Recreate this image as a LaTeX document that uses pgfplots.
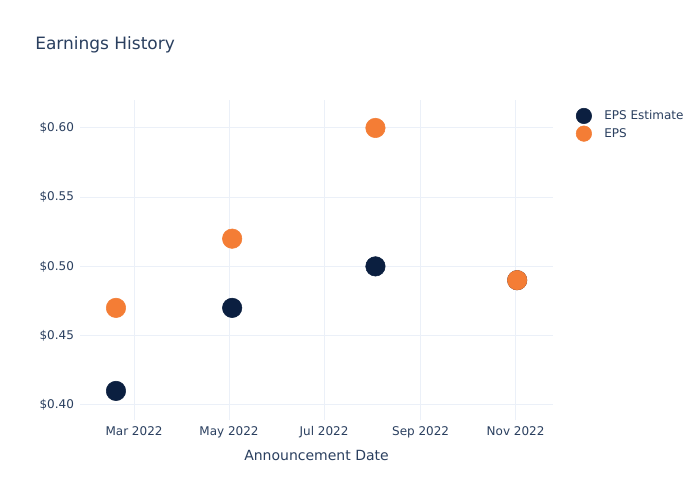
\documentclass[border=0pt]{standalone}
\usepackage{pgfplots}
\pgfplotsset{compat=1.18}
\usepackage{fontspec}
\setmainfont{DejaVu Sans}
\definecolor{txt}{HTML}{2A3F5F}
\definecolor{grd}{HTML}{EBF0F8}
\definecolor{navy}{HTML}{0B1F40}
\definecolor{orng}{HTML}{F47D35}
\begin{document}
\begin{tikzpicture}
\useasboundingbox (0pt,0pt) rectangle (525pt,375pt);
\fill[white] (0pt,0pt) rectangle (525pt,375pt);
\node[anchor=base west,text=txt,font=\fontsize{12.75pt}{14pt}\selectfont,inner sep=0] at (26.25pt,337.5pt) {Earnings History};
\begin{axis}[
  at={(60pt,60pt)}, anchor=south west,
  scale only axis, width=354.75pt, height=240pt,
  xmin=-34.7, xmax=269, ymin=0.389, ymax=0.6202,
  axis line style={draw=none},
  tick style={draw=none},
  grid=major, grid style={grd, line width=0.75pt},
  xtick={0,61,122,184,245},
  xticklabels={Mar 2022,May 2022,Jul 2022,Sep 2022,Nov 2022},
  ytick={0.40,0.45,0.50,0.55,0.60},
  yticklabels={\$0.40,\$0.45,\$0.50,\$0.55,\$0.60},
  ticklabel style={text=txt, font=\fontsize{9pt}{10pt}\selectfont},
  xticklabel style={yshift=-1pt, text height=7pt, text depth=2pt},
  yticklabel style={xshift=-1pt},
  xlabel={Announcement Date},
  xlabel style={text=txt, font=\fontsize{10.5pt}{12pt}\selectfont, yshift=-2pt},
  clip=false,
  legend style={at={(1.04,0.985)}, anchor=north west, draw=none, fill=none,
    font=\fontsize{9pt}{10pt}\selectfont, text=txt, row sep=1pt,
    legend cell align=left, nodes={inner xsep=5pt}},
  legend image code/.code={\draw[#1, mark size=5.8pt] plot coordinates {(0.25cm,0cm)};
    \path[draw=none,fill=none] (0.25cm,0cm) rectangle (0.25cm+10.3pt,0.1pt);},
]
\addplot[only marks, mark=*, mark size=7.3pt, draw=navy, fill=navy, color=navy]
  coordinates {(-11.6,0.41) (63,0.47) (155,0.50) (246,0.49)};
\addlegendentry{EPS Estimate}
\addplot[only marks, mark=*, mark size=7.3pt, draw=orng, fill=orng, color=orng]
  coordinates {(-11.6,0.47) (63,0.52) (155,0.60) (246,0.49)};
\addlegendentry{EPS}
\end{axis}
\end{tikzpicture}
\end{document}
